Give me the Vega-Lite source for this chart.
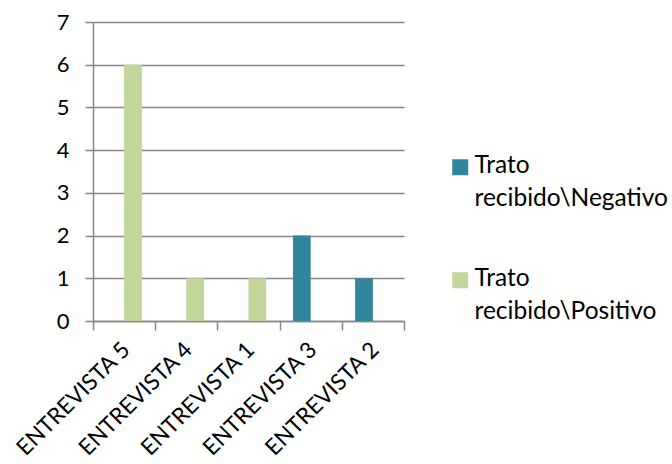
{
  "$schema": "https://vega.github.io/schema/vega-lite/v6.json",
  "width": 311,
  "height": 299,
  "autosize": {"type": "none"},
  "padding": {"left": 93, "top": 22, "right": 268, "bottom": 143},
  "background": "white",
  "config": {
    "view": {"stroke": null},
    "font": "Lato"
  },
  "data": {
    "values": [
      {"entrevista": "ENTREVISTA 5", "trato": "Trato recibido\\Positivo", "valor": 6},
      {"entrevista": "ENTREVISTA 4", "trato": "Trato recibido\\Positivo", "valor": 1},
      {"entrevista": "ENTREVISTA 1", "trato": "Trato recibido\\Positivo", "valor": 1},
      {"entrevista": "ENTREVISTA 3", "trato": "Trato recibido\\Negativo", "valor": 2},
      {"entrevista": "ENTREVISTA 2", "trato": "Trato recibido\\Negativo", "valor": 1}
    ]
  },
  "mark": {"type": "bar"},
  "encoding": {
    "x": {
      "field": "entrevista",
      "type": "nominal",
      "sort": ["ENTREVISTA 5", "ENTREVISTA 4", "ENTREVISTA 1", "ENTREVISTA 3", "ENTREVISTA 2"],
      "scale": {"paddingInner": 0, "paddingOuter": 0},
      "axis": {
        "title": null,
        "labelAngle": -45,
        "labelAlign": "right",
        "labelBaseline": "top",
        "labelFontSize": 22.5,
        "labelColor": "black",
        "labelPadding": 8,
        "labelOffset": -6,
        "tickBand": "extent",
        "tickSize": 9,
        "tickColor": "#868686",
        "tickWidth": 1.5,
        "domainColor": "#868686",
        "domainWidth": 1.5,
        "grid": false
      }
    },
    "xOffset": {
      "field": "trato",
      "type": "nominal",
      "scale": {"domain": ["Trato recibido\\Negativo", "Trato recibido\\Positivo"], "paddingInner": 0, "paddingOuter": 0.75}
    },
    "y": {
      "field": "valor",
      "type": "quantitative",
      "scale": {"domain": [0, 7], "nice": false},
      "axis": {
        "title": null,
        "values": [0, 1, 2, 3, 4, 5, 6, 7],
        "labelFontSize": 22,
        "labelColor": "black",
        "labelPadding": 16,
        "tickSize": 8,
        "tickColor": "#868686",
        "tickWidth": 1.5,
        "domainColor": "#868686",
        "domainWidth": 1.5,
        "gridColor": "#868686",
        "gridWidth": 1.5
      }
    },
    "color": {
      "field": "trato",
      "type": "nominal",
      "scale": {"domain": ["Trato recibido\\Negativo", "Trato recibido\\Positivo"], "range": ["#31859C", "#C4D79B"]},
      "legend": {
        "title": null,
        "orient": "none",
        "legendX": 355,
        "legendY": 133,
        "symbolType": "square",
        "symbolSize": 256,
        "symbolStrokeWidth": 0,
        "labelFontSize": 24.5,
        "labelColor": "black",
        "labelOffset": 2,
        "labelBaseline": "alphabetic",
        "labelLimit": 300,
        "rowPadding": 55,
        "labelExpr": "split(datum.label, ' ')",
        "encoding": {
          "labels": {"lineHeight": {"value": 33}, "dy": {"value": 6}}
        }
      }
    }
  }
}
